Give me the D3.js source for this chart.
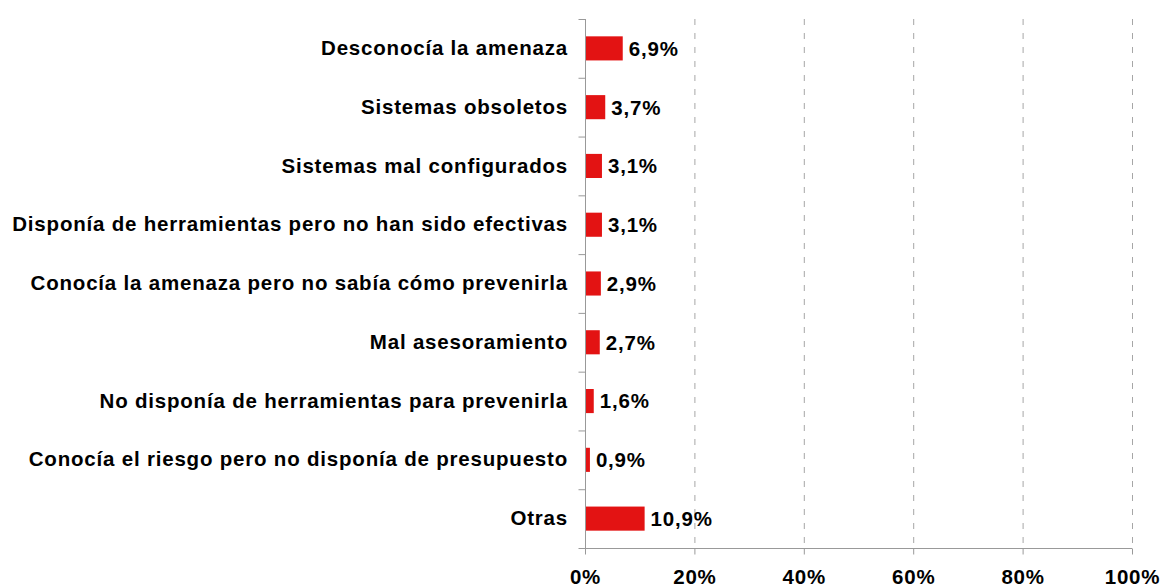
<!DOCTYPE html>
<html>
<head>
<meta charset="utf-8">
<script src="https://cdn.jsdelivr.net/npm/d3@7"></script>
<style>
  body { margin: 0; background: #fff; }
  text { font-family: "Liberation Sans", Arial, sans-serif; font-weight: bold; }
</style>
</head>
<body>
<script>
//Declare consts/global variables
const width = 1163;
const height = 588;
const plotLeft = 585, plotRight = 1132, plotTop = 19, plotBottom = 548;
const fontSize = "20.5px", spacing = "0.8px";

//Data
const categories = [
    "Desconocía la amenaza",
    "Sistemas obsoletos",
    "Sistemas mal configurados",
    "Disponía de herramientas pero no han sido efectivas",
    "Conocía la amenaza pero no sabía cómo prevenirla",
    "Mal asesoramiento",
    "No disponía de herramientas para prevenirla",
    "Conocía el riesgo pero no disponía de presupuesto",
    "Otras"
];
const values = [6.9, 3.7, 3.1, 3.1, 2.9, 2.7, 1.6, 0.9, 10.9];
const xTicks = [0, 20, 40, 60, 80, 100];

const data = categories.map((c, i) => ({ cat: c, val: values[i] }));

//Scales
const xScale = d3.scaleLinear()
    .domain([0, 100])
    .range([plotLeft, plotRight]);

const yScale = d3.scaleBand()
    .domain(categories)
    .range([plotTop, plotBottom])
    .paddingInner(0.59)
    .paddingOuter(0.295);

// boundaries between categories for tick marks
const yEdge = d3.scaleLinear()
    .domain([0, categories.length])
    .range([plotTop, plotBottom]);

//SVG
const svg = d3.select("body")
    .append("svg")
    .attr("width", width)
    .attr("height", height);

//Gridlines
svg.append("g")
    .selectAll("line")
    .data(xTicks.filter(t => t > 0))
    .enter()
    .append("line")
    .attr("x1", d => xScale(d) + 0.5)
    .attr("x2", d => xScale(d) + 0.5)
    .attr("y1", plotTop)
    .attr("y2", plotBottom)
    .attr("stroke", "#a6a6a6")
    .attr("stroke-width", 1)
    .attr("stroke-dasharray", "6,8");

//Bars
svg.selectAll("rect.bar")
    .data(data)
    .enter()
    .append("rect")
    .attr("class", "bar")
    .attr("x", xScale(0))
    .attr("y", d => yScale(d.cat))
    .attr("width", d => xScale(d.val) - xScale(0))
    .attr("height", yScale.bandwidth())
    .attr("fill", "#e31313");

//Value labels
svg.selectAll("text.val")
    .data(data)
    .enter()
    .append("text")
    .attr("class", "val")
    .attr("x", d => xScale(d.val) + 6)
    .attr("y", d => yScale(d.cat) + yScale.bandwidth() / 2)
    .attr("dy", "0.36em")
    .style("font-size", fontSize)
    .style("letter-spacing", spacing)
    .attr("fill", "#000")
    .text(d => d.val.toFixed(1).replace(".", ",") + "%");

//Axes
const bottomAxis = d3.axisBottom(xScale)
    .tickValues(xTicks)
    .tickSize(6)
    .tickPadding(15)
    .tickFormat(d => d + "%");

const xg = svg.append("g")
    .attr("transform", "translate(0," + (plotBottom + 0.5) + ")")
    .call(bottomAxis);
xg.select(".domain").attr("stroke", "#999").attr("d", "M" + plotLeft + ",0H" + plotRight);
xg.selectAll(".tick line").attr("stroke", "#999");
xg.selectAll(".tick text")
    .attr("fill", "#000")
    .style("font-size", fontSize)
    .style("letter-spacing", spacing);

const edgeAxis = d3.axisLeft(yEdge)
    .tickValues(d3.range(categories.length + 1))
    .tickSize(7)
    .tickFormat("");

const yg = svg.append("g")
    .attr("transform", "translate(" + (plotLeft + 0.5) + ",0)")
    .call(edgeAxis);
yg.select(".domain").attr("stroke", "#999").attr("d", "M0," + plotTop + "V" + plotBottom);
yg.selectAll(".tick line").attr("stroke", "#999");

const leftAxis = d3.axisLeft(yScale)
    .tickSize(0)
    .tickPadding(17);

const lg = svg.append("g")
    .attr("transform", "translate(" + plotLeft + ",0)")
    .call(leftAxis);
lg.select(".domain").remove();
lg.selectAll(".tick text")
    .attr("fill", "#000")
    .style("font-size", fontSize)
    .style("letter-spacing", spacing);
</script>
</body>
</html>
